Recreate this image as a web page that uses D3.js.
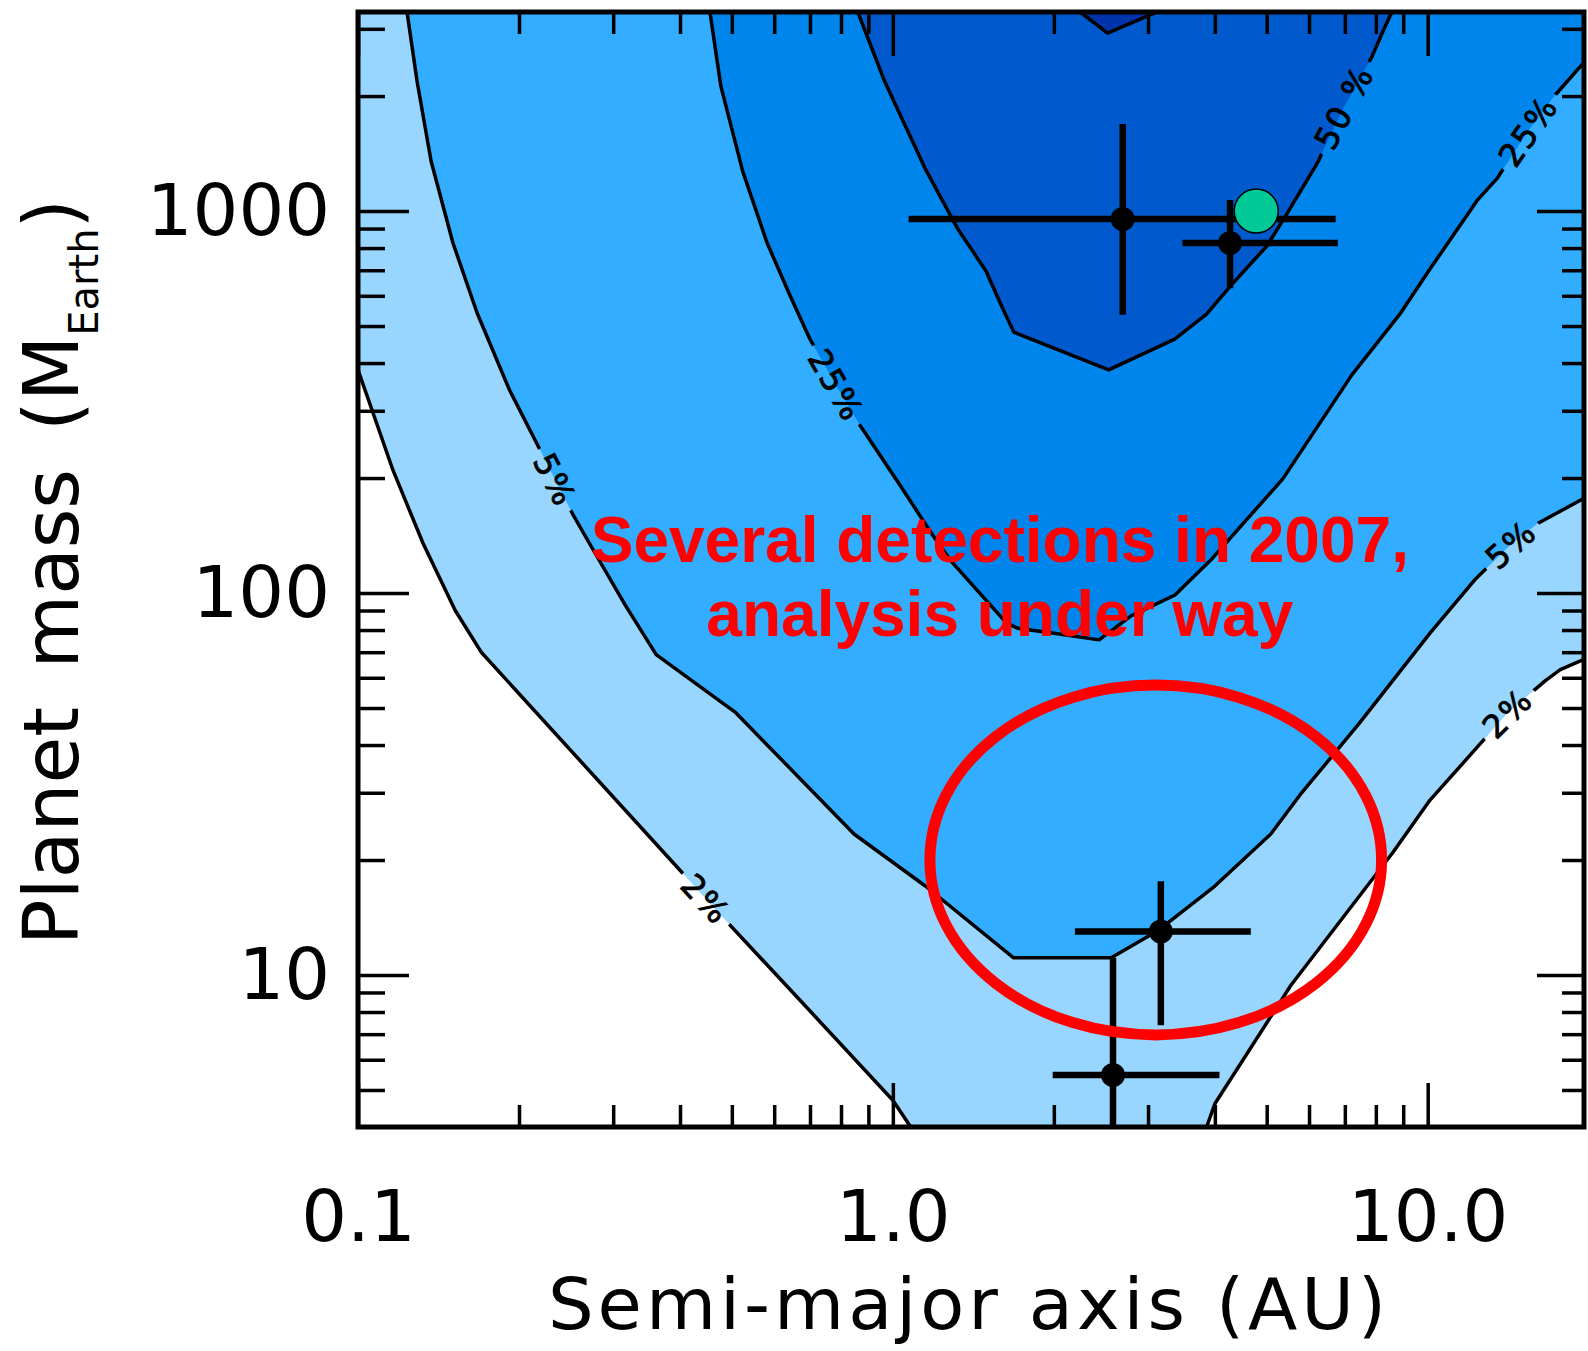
<!DOCTYPE html>
<html>
<head>
<meta charset="utf-8">
<script src="https://cdn.jsdelivr.net/npm/d3@7"></script>
<style>
  body { margin: 0; background: #fff; }
  svg { display: block; }
</style>
</head>
<body>
<div id="chart"></div>
<script>
// axis ranges: semi-major axis (AU) and planet mass (Earth masses)
const xDomain = [0.1, 19.6];
const yDomain = [4, 3320];

const xMajorTicks = [0.1, 1, 10];
const xTickLabels = ["0.1", "1.0", "10.0"];
const xMinorTicks = [0.2, 0.3, 0.4, 0.5, 0.6, 0.7, 0.8, 0.9, 2, 3, 4, 5, 6, 7, 8, 9];
const yMajorTicks = [10, 100, 1000];
const yTickLabels = ["10", "100", "1000"];
const yMinorTicks = [5, 6, 7, 8, 9, 20, 30, 40, 50, 60, 70, 80, 90,
                     200, 300, 400, 500, 600, 700, 800, 900, 2000, 3000];

// detection efficiency contours, [a, M] pairs
const contour2Left = [
  [0.1, 384], [0.1067, 296], [0.1162, 210], [0.1323, 135], [0.152, 90], [0.170, 70],
  [0.40, 18.8], [0.447, 15.8], [0.67, 8.6], [1.0, 4.7], [1.08, 4.0]
];
const contour2Right = [
  [3.86, 4.0], [4.0, 4.6], [5.55, 9.4], [8.6, 20.9], [10.1, 28.7], [12.2, 38.6],
  [14.1, 48.5], [16.6, 59], [17.7, 63], [19.6, 67]
];
const contour5 = [
  [0.1235, 3320], [0.129, 2180], [0.137, 1350], [0.1505, 825], [0.167, 541],
  [0.192, 340], [0.217, 243], [0.2335, 198], [0.252, 161], [0.275, 130],
  [0.316, 93], [0.361, 69], [0.507, 48.8], [0.846, 23.4], [1.15, 17.1],
  [1.68, 11.1], [2.56, 11.1], [3.14, 13.1], [4.0, 17.1], [5.09, 23.4],
  [5.77, 29.6], [7.46, 45.7], [10.1, 78.5], [12.3, 109], [14.3, 134],
  [16.05, 152], [19.6, 177]
];
const contour25 = [
  [0.455, 3320], [0.477, 2120], [0.524, 1270], [0.582, 825], [0.642, 602],
  [0.700, 462], [0.783, 350], [0.868, 275], [1.03, 192], [1.19, 141],
  [1.28, 122], [1.63, 83.5], [1.71, 80.9], [2.03, 78.2], [2.43, 75.4],
  [2.79, 87.1], [3.37, 98.8], [3.93, 122], [5.36, 199], [7.21, 372],
  [8.87, 537], [10.1, 705], [12.4, 1070], [13.5, 1220], [15.4, 1620],
  [17.3, 2010], [19.6, 2450]
];
const contour50 = [
  [0.860, 3320], [0.966, 2180], [1.148, 1296], [1.323, 897], [1.493, 697],
  [1.600, 561], [1.683, 482], [2.533, 384], [3.366, 462], [3.86, 537],
  [4.28, 637], [5.00, 809], [5.45, 982], [6.25, 1352], [6.47, 1507],
  [6.97, 1871], [7.86, 2529], [8.28, 2993], [8.57, 3320]
];
// small patch of the highest level at the top edge
const contourTop = [[2.24, 3320], [2.52, 2924], [3.12, 3320]];

const contourLabels = [
  { text: "2%", line: "c2l", a: 0.447, m: 15.8 },
  { text: "5%", line: "c5", a: 0.2335, m: 198 },
  { text: "25%", line: "c25", a: 0.783, m: 350 },
  { text: "50 %", line: "c50", a: 6.97, m: 1871 },
  { text: "25%", line: "c25", a: 15.4, m: 1620 },
  { text: "5%", line: "c5", a: 14.3, m: 134 },
  { text: "2%", line: "c2r", a: 14.1, m: 48.5 }
];

// detected planets with their error ranges
const detections = [
  { a: 2.69, m: 953, aLo: 1.07, aHi: 6.73, mLo: 535, mHi: 1690 },
  { a: 4.27, m: 825, aLo: 3.48, aHi: 6.79, mLo: 628, mHi: 1069 },
  { a: 3.17, m: 13.0, aLo: 2.19, aHi: 4.67, mLo: 7.39, mHi: 17.6 },
  { a: 2.58, m: 5.47, aLo: 1.99, aHi: 4.08, mLo: 3.0, mHi: 11.1 }
];
const greenPoint = { a: 4.78, m: 1000 };

const noteLines = ["Several detections in 2007,", "analysis under way"];
const noteA = 1.585;
const noteM = [120.5, 77.1];
const highlight = { aLo: 1.173, aHi: 8.2, mLo: 6.97, mHi: 57.4 };

const width = 1588, height = 1351;
const plot = { left: 358, right: 1584, top: 12, bottom: 1127 };

const x = d3.scaleLog().domain(xDomain).range([plot.left, plot.right]);
const y = d3.scaleLog().domain(yDomain).range([plot.bottom, plot.top]);

const svg = d3.select("#chart").append("svg")
    .attr("width", width)
    .attr("height", height);

svg.append("rect").attr("width", width).attr("height", height).attr("fill", "#fff");

const defs = svg.append("defs");
defs.append("clipPath").attr("id", "plot-clip")
    .append("rect")
    .attr("x", plot.left).attr("y", plot.top)
    .attr("width", plot.right - plot.left)
    .attr("height", plot.bottom - plot.top);

const line = d3.line().x(d => x(d[0])).y(d => y(d[1]));

// Filled levels, lowest first
const yTop = yDomain[1], xRight = xDomain[1];
const regions = [
    { pts: [[xDomain[0], yTop]].concat(contour2Left, contour2Right, [[xRight, yTop]]), fill: "#99D6FF" },
    { pts: contour5.concat([[xRight, yTop]]), fill: "#33ADFF" },
    { pts: contour25.concat([[xRight, yTop]]), fill: "#0085EC" },
    { pts: contour50, fill: "#005ACD" },
    { pts: contourTop, fill: "#0033AA" }
];

const plotArea = svg.append("g").attr("clip-path", "url(#plot-clip)");

plotArea.selectAll("path.level")
    .data(regions)
    .join("path")
    .attr("class", "level")
    .attr("d", d => line(d.pts) + "Z")
    .attr("fill", d => d.fill);

// Contour lines, with gaps cut where the labels sit
const lines = { c2l: contour2Left, c2r: contour2Right, c5: contour5, c25: contour25, c50: contour50, top: contourTop };

const gapMask = defs.append("mask").attr("id", "label-gaps")
    .attr("maskUnits", "userSpaceOnUse")
    .attr("x", 0).attr("y", 0).attr("width", width).attr("height", height);
gapMask.append("rect").attr("width", width).attr("height", height).attr("fill", "#fff");

const lineGroup = plotArea.append("g").attr("mask", "url(#label-gaps)");
lineGroup.selectAll("path")
    .data(Object.values(lines))
    .join("path")
    .attr("d", d => line(d))
    .attr("fill", "none")
    .attr("stroke", "#000")
    .attr("stroke-width", 3.5)
    .attr("stroke-linejoin", "round");

function labelAngle(pts, a, m) {
    let idx = 0, best = Infinity;
    pts.forEach((p, i) => {
        const dist = Math.hypot(x(p[0]) - x(a), y(p[1]) - y(m));
        if (dist < best) { best = dist; idx = i; }
    });
    const p0 = pts[Math.max(idx - 1, 0)], p1 = pts[Math.min(idx + 1, pts.length - 1)];
    return Math.atan2(y(p1[1]) - y(p0[1]), x(p1[0]) - x(p0[0])) * 180 / Math.PI;
}

contourLabels.forEach(d => {
    const px = x(d.a), py = y(d.m);
    const angle = labelAngle(lines[d.line], d.a, d.m);
    const t = plotArea.append("text")
        .attr("transform", `translate(${px},${py}) rotate(${angle})`)
        .attr("text-anchor", "middle")
        .attr("dy", "0.36em")
        .attr("fill", "#000")
        .attr("stroke", "#000")
        .attr("stroke-width", 0.9)
        .style("font-family", "DejaVu Sans, sans-serif")
        .style("font-size", "32px")
        .style("letter-spacing", "2px")
        .text(d.text);
    const w = t.node().getComputedTextLength() + 14;
    gapMask.append("rect")
        .attr("transform", `translate(${px},${py}) rotate(${angle})`)
        .attr("x", -w / 2).attr("y", -9)
        .attr("width", w).attr("height", 18)
        .attr("fill", "#000");
});

// Error bars for the detections
const bars = svg.append("g").attr("clip-path", "url(#plot-clip)");
bars.selectAll("line.h")
    .data(detections)
    .join("line")
    .attr("class", "h")
    .attr("x1", d => x(d.aLo)).attr("x2", d => x(d.aHi))
    .attr("y1", d => y(d.m)).attr("y2", d => y(d.m));
bars.selectAll("line.v")
    .data(detections)
    .join("line")
    .attr("class", "v")
    .attr("x1", d => x(d.a)).attr("x2", d => x(d.a))
    .attr("y1", d => y(d.mLo)).attr("y2", d => y(d.mHi));
bars.selectAll("line").attr("stroke", "#000").attr("stroke-width", 6.5);
bars.selectAll("circle")
    .data(detections)
    .join("circle")
    .attr("cx", d => x(d.a)).attr("cy", d => y(d.m))
    .attr("r", 12)
    .attr("fill", "#000");

svg.append("circle")
    .attr("cx", x(greenPoint.a)).attr("cy", y(greenPoint.m))
    .attr("r", 22)
    .attr("fill", "#00C897")
    .attr("stroke", "#000")
    .attr("stroke-width", 1.5);

// Red annotation
svg.append("g").selectAll("text")
    .data(noteLines)
    .join("text")
    .attr("x", x(noteA))
    .attr("y", (d, i) => y(noteM[i]))
    .attr("text-anchor", "middle")
    .style("font-family", "Liberation Sans, Arial, sans-serif")
    .style("font-weight", "bold")
    .style("font-size", "64px")
    .attr("fill", "#FF0000")
    .text(d => d);

const ex0 = x(highlight.aLo), ex1 = x(highlight.aHi);
const ey0 = y(highlight.mHi), ey1 = y(highlight.mLo);
svg.append("ellipse")
    .attr("cx", (ex0 + ex1) / 2).attr("cy", (ey0 + ey1) / 2)
    .attr("rx", (ex1 - ex0) / 2).attr("ry", (ey1 - ey0) / 2)
    .attr("fill", "none")
    .attr("stroke", "#FF0000")
    .attr("stroke-width", 11);

// Axes: ticks on all four sides, pointing inward
function styleAxis(g) {
    g.select(".domain").remove();
    g.selectAll("line").attr("stroke", "#000").attr("stroke-width", 3.5);
    g.selectAll("text")
        .attr("fill", "#000")
        .style("font-family", "DejaVu Sans, sans-serif")
        .style("font-size", "72px");
}

svg.append("g")
    .attr("transform", `translate(0,${plot.bottom})`)
    .call(d3.axisBottom(x).tickValues(xMajorTicks).tickSize(-44)
        .tickFormat((d, i) => xTickLabels[i]))
    .call(styleAxis)
    .call(g => g.selectAll("text").attr("y", 114).attr("dy", null));
svg.append("g")
    .attr("transform", `translate(0,${plot.bottom})`)
    .call(d3.axisBottom(x).tickValues(xMinorTicks).tickSize(-22).tickFormat(""))
    .call(styleAxis);
svg.append("g")
    .attr("transform", `translate(0,${plot.top})`)
    .call(d3.axisTop(x).tickValues(xMajorTicks).tickSize(-44).tickFormat(""))
    .call(styleAxis);
svg.append("g")
    .attr("transform", `translate(0,${plot.top})`)
    .call(d3.axisTop(x).tickValues(xMinorTicks).tickSize(-22).tickFormat(""))
    .call(styleAxis);

svg.append("g")
    .attr("transform", `translate(${plot.left},0)`)
    .call(d3.axisLeft(y).tickValues(yMajorTicks).tickSize(-51).tickPadding(28)
        .tickFormat((d, i) => yTickLabels[i]))
    .call(styleAxis);
svg.append("g")
    .attr("transform", `translate(${plot.left},0)`)
    .call(d3.axisLeft(y).tickValues(yMinorTicks).tickSize(-27).tickFormat(""))
    .call(styleAxis);
svg.append("g")
    .attr("transform", `translate(${plot.right},0)`)
    .call(d3.axisRight(y).tickValues(yMajorTicks).tickSize(-47).tickFormat(""))
    .call(styleAxis);
svg.append("g")
    .attr("transform", `translate(${plot.right},0)`)
    .call(d3.axisRight(y).tickValues(yMinorTicks).tickSize(-22).tickFormat(""))
    .call(styleAxis);

// Frame
svg.append("rect")
    .attr("x", plot.left).attr("y", plot.top)
    .attr("width", plot.right - plot.left)
    .attr("height", plot.bottom - plot.top)
    .attr("fill", "none")
    .attr("stroke", "#000")
    .attr("stroke-width", 5);

// Axis titles
svg.append("text")
    .attr("x", 969).attr("y", 1329)
    .attr("text-anchor", "middle")
    .style("font-family", "DejaVu Sans, sans-serif")
    .style("font-size", "72px")
    .style("letter-spacing", "4px")
    .text("Semi-major axis (AU)");

const yTitle = svg.append("text")
    .attr("transform", "translate(78,572) rotate(-90)")
    .attr("text-anchor", "middle")
    .style("font-family", "DejaVu Sans, sans-serif")
    .style("font-size", "76px")
    .style("word-spacing", "14px");
yTitle.append("tspan").text("Planet mass (M");
yTitle.append("tspan").attr("dy", 20).style("font-size", "40px").text("Earth");
yTitle.append("tspan").attr("dy", -20).text(")");
</script>
</body>
</html>
